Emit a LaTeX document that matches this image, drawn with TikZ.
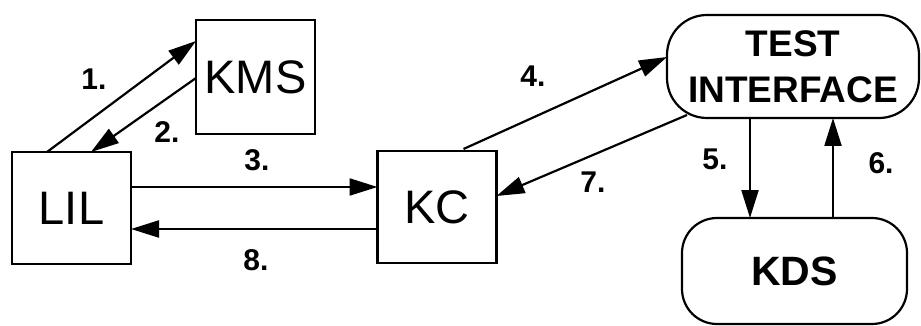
\documentclass[tikz,border=0pt]{standalone}
\usepackage{fontspec}
\setmainfont{Liberation Sans}
\usetikzlibrary{arrows.meta}
\tikzset{
  box/.style={draw, line width=2.2pt, outer sep=0pt, inner sep=0pt, font=\fontsize{47}{50}\selectfont},
  pill/.style={draw, line width=2.2pt, outer sep=0pt, inner sep=0pt, align=center,
     font=\fontsize{37}{46}\selectfont\bfseries},
  lbl/.style={font=\fontsize{30}{32}\selectfont\bfseries, inner sep=0pt},
  flow/.style={line width=2.2pt, -{Triangle[length=28pt,width=17pt]}}
}
\begin{document}
\begin{tikzpicture}[x=1pt,y=-1pt]
\useasboundingbox (0,0) rectangle (921,326);
\node[box, minimum width=119pt, minimum height=112pt] (LIL) at (71.5,208) {LIL};
\node[box, minimum width=119pt, minimum height=114pt] (KMS) at (255.5,77) {KMS};
\node[box, minimum width=119pt, minimum height=112pt] (KC) at (437,207) {KC};
\node[pill, rounded corners=40pt, minimum width=252pt, minimum height=103pt] (TI) at (793,66.5) {TEST\\INTERFACE};
\node[pill, rounded corners=35pt, minimum width=225pt, minimum height=106pt, font=\fontsize{41}{46}\selectfont\bfseries] (KDS) at (794.5,271) {KDS};
% arrows
\draw[flow] ([xshift=35pt]LIL.north west) -- ([yshift=-21pt]KMS.north west);
\draw[flow] ([yshift=-58pt]KMS.north west) -- ([xshift=79pt]LIL.north west);
\draw[flow] ([yshift=-35pt]LIL.north east) -- ([yshift=-36pt]KC.north west);
\draw[flow] ([yshift=-78pt]KC.north west) -- ([yshift=-77pt]LIL.north east);
\draw[flow] ([xshift=-33pt,yshift=2pt]KC.north east) -- ([yshift=9.5pt]TI.west);
\draw[flow] ([xshift=20pt,yshift=3pt]TI.south west) -- ([yshift=11pt]KC.east);
\draw[flow] ([xshift=-43pt]TI.south) -- ([xshift=-44.5pt]KDS.north);
\draw[flow] ([xshift=38.5pt]KDS.north) -- ([xshift=40pt]TI.south);
% labels
\node[lbl] (l1) at (94,79) {1.};
\node[lbl] (l2) at (167,132) {2.};
\node[lbl] (l3) at (257,160) {3.};
\node[lbl] (l8) at (256,260) {8.};
\node[lbl] (l4) at (533,76) {4.};
\node[lbl] (l7) at (593,182) {7.};
\node[lbl] (l5) at (715,159) {5.};
\node[lbl] (l6) at (881,163) {6.};
\end{tikzpicture}
\end{document}
